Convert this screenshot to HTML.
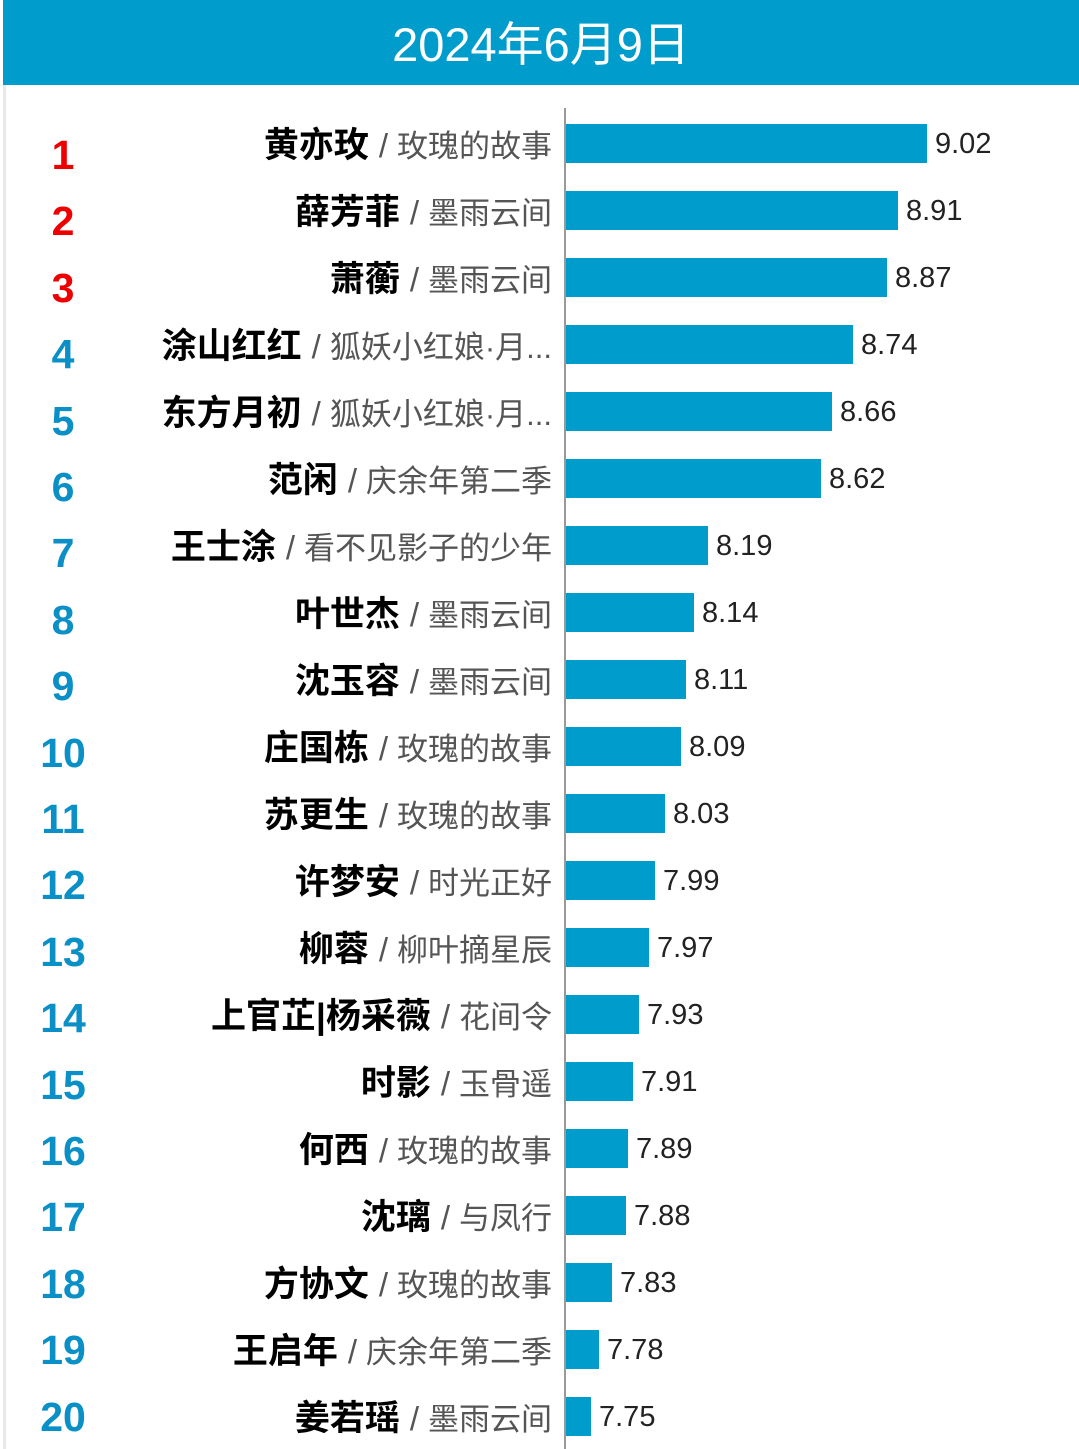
<!DOCTYPE html>
<html><head><meta charset="utf-8"><style>
body{margin:0;width:1079px;height:1449px;background:#fff;position:relative;overflow:hidden;font-family:"Liberation Sans","Noto Sans CJK SC",sans-serif}
.hd{position:absolute;left:3px;top:0;width:1076px;height:85px;background:#009ccc;color:#fff;font-size:47px;text-align:center;line-height:90px}
.lb{position:absolute;left:3px;width:1073px;top:85px;bottom:0;border-left:3px solid #e8e8e8}
.ax{position:absolute;left:564px;top:108px;width:2px;height:1341px;background:#999}
.rk{position:absolute;left:13px;width:100px;text-align:center;font-weight:bold;font-size:41px;line-height:40px}
.nm{position:absolute;right:527px;white-space:nowrap;line-height:40px;color:#111}
.nm b{font-weight:bold;color:#000;font-size:35px}
.nm span{color:#555;font-size:31px}
.nm i{font-style:normal;color:#555;font-size:33px;margin:0 9px 0 10px}
.bar{position:absolute;left:566px;height:39px;background:#009ccc}
.v{position:absolute;font-size:29px;line-height:40px;color:#222}
</style></head><body>
<div class="lb"></div>
<div class="hd">2024年6月9日</div>
<div class="ax"></div>
<div id="c"></div>
<script>
var d=[["黄亦玫","玫瑰的故事",9.02],["薛芳菲","墨雨云间",8.91],["萧蘅","墨雨云间",8.87],["涂山红红","狐妖小红娘·月...",8.74],["东方月初","狐妖小红娘·月...",8.66],["范闲","庆余年第二季",8.62],["王士涂","看不见影子的少年",8.19],["叶世杰","墨雨云间",8.14],["沈玉容","墨雨云间",8.11],["庄国栋","玫瑰的故事",8.09],["苏更生","玫瑰的故事",8.03],["许梦安","时光正好",7.99],["柳蓉","柳叶摘星辰",7.97],["上官芷|杨采薇","花间令",7.93],["时影","玉骨遥",7.91],["何西","玫瑰的故事",7.89],["沈璃","与凤行",7.88],["方协文","玫瑰的故事",7.83],["王启年","庆余年第二季",7.78],["姜若瑶","墨雨云间",7.75]];
var h="";
d.forEach(function(r,i){var c=143+67*i;var w=Math.round((r[2]-7.655)*264.6);
var col=i<3?"#ee0000":"#0a8fc6";
h+='<div class="rk" style="top:'+Math.round(135+66.4*i)+'px;color:'+col+'">'+(i+1)+'</div>';
h+='<div class="nm" style="top:'+(c-17)+'px"><b>'+r[0]+'</b><i>/</i><span>'+r[1]+'</span></div>';
h+='<div class="bar" style="top:'+(c-19)+'px;width:'+w+'px"></div>';
h+='<div class="v" style="top:'+(c-19)+'px;left:'+(566+w+8)+'px">'+r[2].toFixed(2)+'</div>';});
document.getElementById("c").innerHTML=h;
</script>
</body></html>
